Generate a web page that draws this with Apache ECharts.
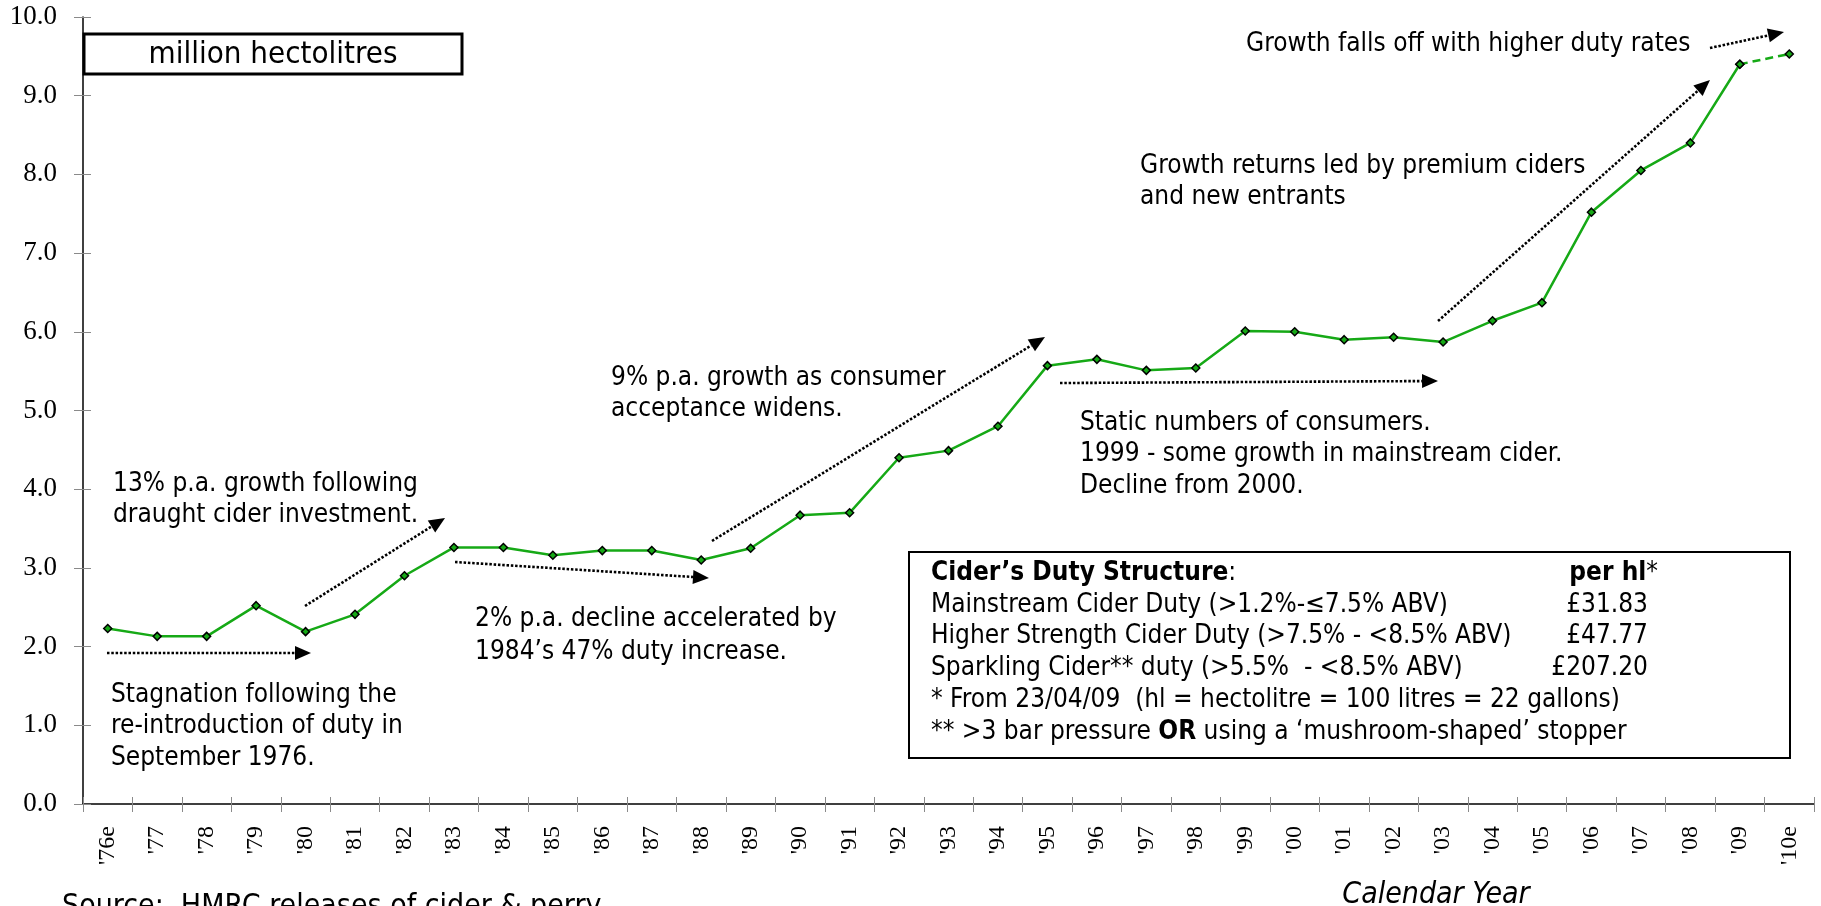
<!DOCTYPE html>
<html><head><meta charset="utf-8">
<script src="https://cdn.jsdelivr.net/npm/echarts@6/dist/echarts.min.js"></script>
<style>html,body{margin:0;padding:0;background:#fff}#c{width:1821px;height:906px}</style>
</head><body><div id="c"></div>
<script>
// ---------- data ----------
const years = ["'76e","'77","'78","'79","'80","'81","'82","'83","'84","'85","'86","'87","'88","'89",
  "'90","'91","'92","'93","'94","'95","'96","'97","'98","'99","'00","'01","'02","'03","'04","'05",
  "'06","'07","'08","'09","'10e"];
// million hectolitres, '76e .. '09
const volume = [2.23,2.13,2.13,2.52,2.19,2.41,2.90,3.26,3.26,3.16,3.22,3.22,3.10,3.25,
  3.67,3.70,4.40,4.49,4.80,5.57,5.65,5.51,5.54,6.01,6.00,5.90,5.93,5.87,6.14,6.37,
  7.52,8.05,8.40,9.40];
const estimate2010 = 9.53;
const yTicks = {min:0, max:10, interval:1};

// annotation anchors in data space: x = category position (centre of i-th category = i+0.5), y = value
const notes = [
  {text:"13% p.a. growth following\ndraught cider investment.", at:[0.607,4.066], lh:31},
  {text:"Stagnation following the\nre-introduction of duty in\nSeptember 1976.", at:[0.566,1.385], lh:31.5},
  {text:"2% p.a. decline accelerated by\n1984\u2019s 47% duty increase.", at:[7.926,2.351], lh:33},
  {text:"9% p.a. growth as consumer\nacceptance widens.", at:[10.676,5.413], lh:31},
  {text:"Static numbers of consumers.\n1999 - some growth in mainstream cider.\nDecline from 2000.", at:[20.159,4.841], lh:31.5},
  {text:"Growth returns led by premium ciders\nand new entrants", at:[21.372,8.107], lh:31},
  {text:"Growth falls off with higher duty rates", at:[23.516,9.657], lh:31}
];
const arrows = [
  {from:[4.489,2.516], to:[7.320,3.634]},
  {from:[0.485,1.919], to:[4.610,1.919]},
  {from:[7.522,3.075], to:[12.657,2.872]},
  {from:[12.718,3.342], to:[19.451,5.934]},
  {from:[19.755,5.349], to:[27.398,5.375]},
  {from:[27.398,6.137], to:[32.897,9.199]},
  {from:[32.897,9.606], to:[34.393,9.809]}
];
const dutyRows = [
  ["{b|Cider\u2019s Duty Structure}:", "{b|per hl}*"],
  ["Mainstream Cider Duty (>1.2%-\u22647.5% ABV)", "\u00a331.83"],
  ["Higher Strength Cider Duty (>7.5% - <8.5% ABV)", "\u00a347.77"],
  ["Sparkling Cider** duty (>5.5%  - <8.5% ABV)", "\u00a3207.20"],
  ["* From 23/04/09  (hl = hectolitre = 100 litres = 22 gallons)", ""],
  ["** >3 bar pressure {b|OR} using a \u2018mushroom-shaped\u2019 stopper", ""]
];

// ---------- fonts ----------
function hasFont(name){
  const c=document.createElement('canvas').getContext('2d');
  const s='abcdefghijklmnopqrstuvwxyz ABC 0123';
  c.font='40px monospace'; const a=c.measureText(s).width;
  c.font='40px "'+name+'", monospace'; const b=c.measureText(s).width;
  return Math.abs(a-b)>0.5;
}
const SANS = hasFont('DejaVu Sans Condensed') ? '"DejaVu Sans Condensed"' : '"Liberation Sans"';
const SERIF = '"Liberation Serif", "DejaVu Serif", serif';
const GREEN = '#16a916';

// ---------- chart ----------
const solid = volume.concat([null]);
const dashed = years.map((_,i)=> i===volume.length-1 ? volume[i] : (i===volume.length ? estimate2010 : null));

const chart = echarts.init(document.getElementById('c'), null, {renderer:'canvas'});
const tickGrey = '#8a8a8a';
chart.setOption({
  animation:false,
  backgroundColor:'#fff',
  grid:{left:83, right:7, top:17, bottom:102, containLabel:false},
  xAxis:[
    {type:'category', data:years, position:'bottom', boundaryGap:true,
     axisLine:{lineStyle:{color:'#000', width:1.5}},
     axisTick:{show:true, interval:0, length:8, lineStyle:{color:tickGrey, width:1}},
     axisLabel:{interval:0, rotate:90, margin:22, color:'#000', fontFamily:SERIF, fontSize:24},
     splitLine:{show:false}},
    {type:'category', data:years, position:'bottom', boundaryGap:true,
     axisLine:{show:false},
     axisTick:{show:true, inside:true, interval:0, length:7, lineStyle:{color:tickGrey, width:1}},
     axisLabel:{show:false}, splitLine:{show:false}},
    {type:'value', min:0, max:years.length, show:false, position:'bottom', splitLine:{show:false}}
  ],
  yAxis:[
    {type:'value', min:yTicks.min, max:yTicks.max, interval:yTicks.interval, position:'left',
     axisLine:{show:true, lineStyle:{color:'#000', width:1.5}},
     axisTick:{show:true, length:9, lineStyle:{color:tickGrey, width:1}},
     axisLabel:{margin:26, color:'#000', fontFamily:SERIF, fontSize:27, formatter:v=>v.toFixed(1)},
     splitLine:{show:false}},
    {type:'value', min:yTicks.min, max:yTicks.max, interval:yTicks.interval, position:'left',
     axisLine:{show:false},
     axisTick:{show:true, inside:true, length:8, lineStyle:{color:tickGrey, width:1}},
     axisLabel:{show:false}, splitLine:{show:false}}
  ],
  series:[
    {type:'line', data:solid, xAxisIndex:0, yAxisIndex:0, symbol:'diamond', symbolSize:8,
     lineStyle:{color:GREEN, width:2.5}, itemStyle:{color:GREEN, borderColor:'#000', borderWidth:1.5},
     connectNulls:false, z:3},
    {type:'line', data:dashed, xAxisIndex:0, yAxisIndex:0, symbol:'diamond', symbolSize:8,
     lineStyle:{color:GREEN, width:2.5, type:[8,5]}, itemStyle:{color:GREEN, borderColor:'#000', borderWidth:1.5},
     connectNulls:false, z:3}
  ]
});

// ---------- annotations placed through the axes' own scales ----------
function px(p){
  return [chart.convertToPixel({xAxisIndex:2}, p[0]), chart.convertToPixel({yAxisIndex:0}, p[1])];
}
const FS = 26;
const g = [];
notes.forEach(n=>{
  const p = px(n.at);
  g.push({type:'text', z:10, style:{text:n.text, x:p[0], y:p[1]-n.lh/2, fill:'#000',
    fontFamily:SANS, fontSize:FS, lineHeight:n.lh, align:'left', verticalAlign:'top'}});
});
arrows.forEach(a=>{
  const p1 = px(a.from), p2 = px(a.to);
  const dx=p2[0]-p1[0], dy=p2[1]-p1[1], L=Math.hypot(dx,dy);
  const ux=dx/L, uy=dy/L, head=16, hw=7;
  const bx=p2[0]-ux*head, by=p2[1]-uy*head;
  g.push({type:'line', z:9, shape:{x1:p1[0], y1:p1[1], x2:bx, y2:by},
    style:{stroke:'#000', lineWidth:2.6, lineDash:[2.5,1.8]}});
  g.push({type:'polygon', z:9, shape:{points:[[p2[0],p2[1]],[bx-uy*hw, by+ux*hw],[bx+uy*hw, by-ux*hw]]},
    style:{fill:'#000'}});
});
// unit box
g.push({type:'rect', z:10, shape:{x:84, y:34, width:378, height:40}, style:{fill:'#fff', stroke:'#000', lineWidth:3}});
g.push({type:'text', z:11, style:{text:'million hectolitres', x:273, y:55, fill:'#000',
  fontFamily:SANS, fontSize:31, align:'center', verticalAlign:'middle'}});
// duty table
g.push({type:'rect', z:10, shape:{x:909, y:552, width:881, height:206}, style:{fill:'#fff', stroke:'#000', lineWidth:2}});
const rich = {b:{fontWeight:'bold', fontFamily:SANS, fontSize:FS, fill:'#000'}};
dutyRows.forEach((r,i)=>{
  const cy = 573 + i*31.8;
  g.push({type:'text', z:11, style:{text:r[0], x:931, y:cy, fill:'#000', fontFamily:SANS, fontSize:FS,
    align:'left', verticalAlign:'middle', rich:rich}});
  if (r[1]) g.push({type:'text', z:11, style:{text:r[1], x: i===0?1658:1648, y:cy, fill:'#000', fontFamily:SANS, fontSize:FS,
    align:'right', verticalAlign:'middle', rich:rich}});
});
// footer texts
g.push({type:'text', z:11, style:{text:'Source:  HMRC releases of cider & perry', x:62, y:892, fill:'#000',
  fontFamily:SANS, fontSize:30, align:'left', verticalAlign:'top'}});
g.push({type:'text', z:11, style:{text:'Calendar Year', x:1436, y:880, fill:'#000',
  fontFamily:SANS, fontSize:30, fontStyle:'italic', align:'center', verticalAlign:'top'}});
chart.setOption({graphic:g});
</script>
</body></html>
